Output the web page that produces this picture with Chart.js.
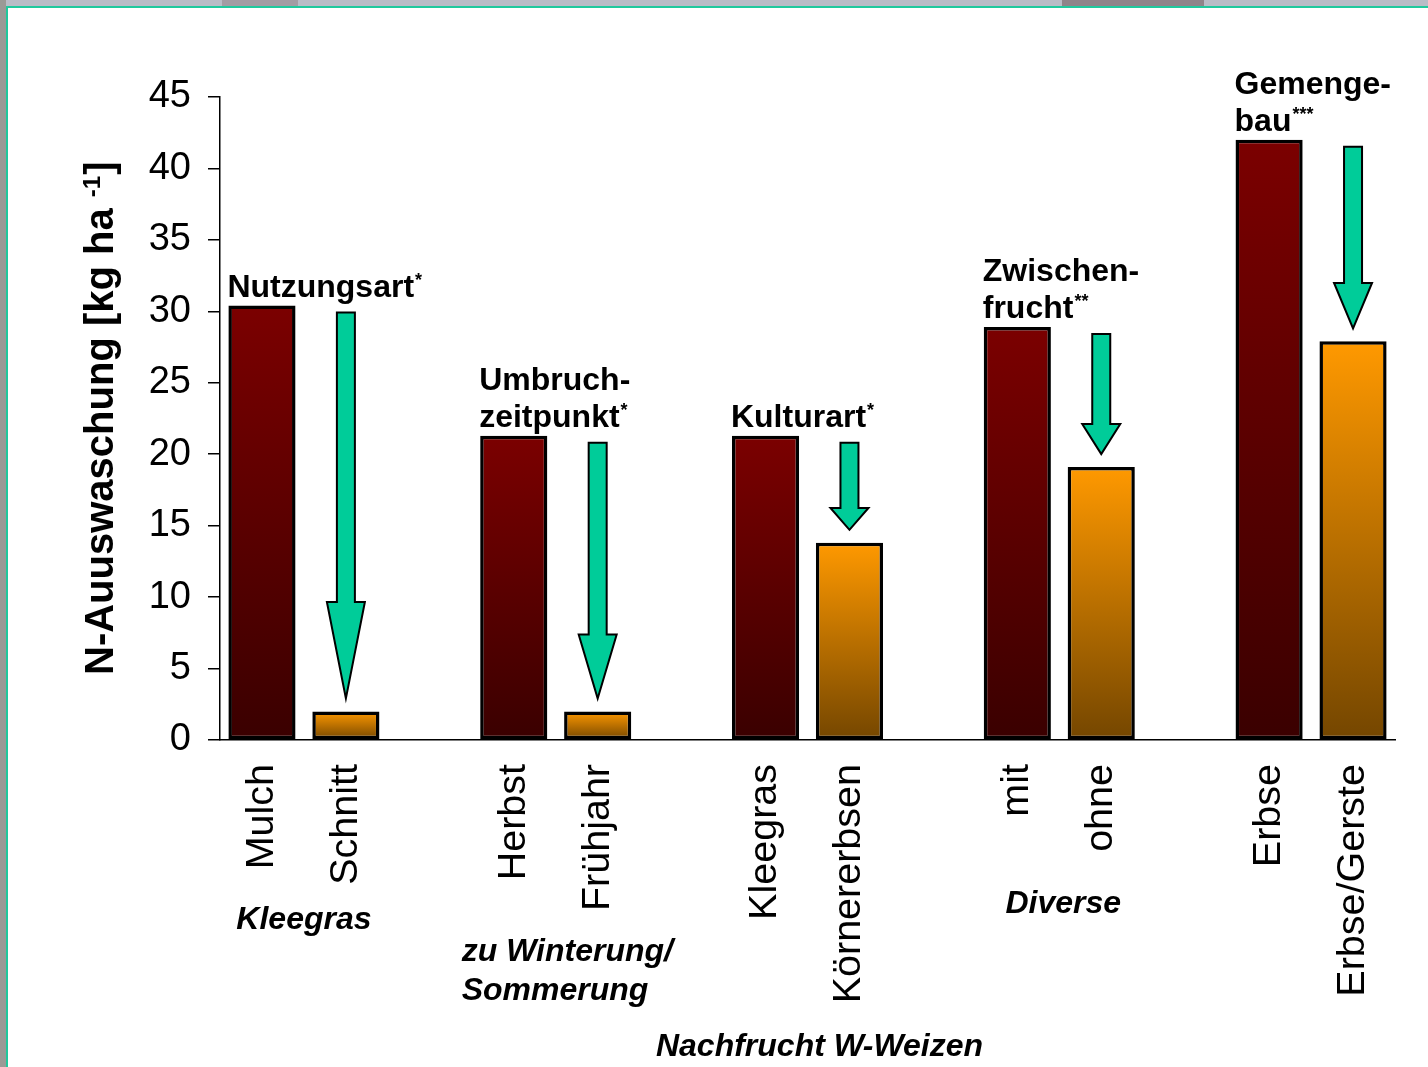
<!DOCTYPE html>
<html>
<head>
<meta charset="utf-8">
<script src="https://cdn.jsdelivr.net/npm/chart.js@4.4.0/dist/chart.umd.min.js"></script>
<style>
  html, body { margin: 0; padding: 0; background: #fff; overflow: hidden; }
  canvas { display: block; }
</style>
</head>
<body>
<canvas id="chart" width="1428" height="1067"></canvas>
<script>
// N leaching (kg N per ha) for five management comparisons
const referenceLabels   = ['Mulch', 'Herbst', 'Kleegras', 'mit', 'Erbse'];
const alternativeLabels = ['Schnitt', 'Frühjahr', 'Körnererbsen', 'ohne', 'Erbse/Gerste'];
const referenceValues   = [30.4, 21.3, 21.3, 28.9, 42.0];
const alternativeValues = [2.0, 2.0, 13.8, 19.1, 27.9];
const factorTitles = [['Nutzungsart'], ['Umbruch-', 'zeitpunkt'], ['Kulturart'], ['Zwischen-', 'frucht'], ['Gemenge-', 'bau']];
const significance = ['*', '*', '*', '**', '***'];
const yTickValues = [0, 5, 10, 15, 20, 25, 30, 35, 40, 45];
const yAxisTitle = ['N-Auuswaschung [kg ha ', '-1', ']'];
const captionKleegras = 'Kleegras';
const captionWinter = ['zu Winterung/', 'Sommerung'];
const captionDiverse = 'Diverse';
const captionFollowCrop = 'Nachfrucht W-Weizen';

// one category slot per bar, with an empty slot between comparisons
const categories = [];
const values = [];
const roles = [];
referenceLabels.forEach((label, i) => {
  if (i > 0) { categories.push(''); values.push(null); roles.push(null); }
  categories.push(label); values.push(referenceValues[i]); roles.push('ref');
  categories.push(alternativeLabels[i]); values.push(alternativeValues[i]); roles.push('alt');
});

const FONT = "'Liberation Sans', Arial, Helvetica, sans-serif";

function barGradient(context) {
  const chart = context.chart;
  const role = roles[context.dataIndex];
  const solid = role === 'ref' ? '#7b0000' : '#ff9900';
  if (!chart.chartArea || context.raw == null) return solid;
  const y = chart.scales.y;
  const top = y.getPixelForValue(context.raw);
  const bottom = y.getPixelForValue(0);
  if (!isFinite(top) || !isFinite(bottom) || bottom - top < 1) return solid;
  const g = chart.ctx.createLinearGradient(0, top, 0, bottom);
  if (role === 'ref') {
    g.addColorStop(0, '#7b0000');
    g.addColorStop(1, '#3a0000');
  } else {
    g.addColorStop(0, '#ff9900');
    g.addColorStop(1, '#744600');
  }
  return g;
}

// slide frame: grey strips with a thin teal rule
const framePlugin = {
  id: 'frame',
  beforeDraw(chart) {
    const c = chart.ctx;
    const W = chart.width, H = chart.height;
    c.save();
    c.fillStyle = '#ffffff';
    c.fillRect(0, 0, W, H);
    c.fillStyle = '#b9bcc6';
    c.fillRect(0, 0, W, 6);
    c.fillStyle = '#a39ca3';
    c.fillRect(222, 0, 76, 6);
    c.fillStyle = '#8f8489';
    c.fillRect(1062, 0, 142, 6);
    c.fillStyle = '#9a9a96';
    c.fillRect(0, 0, 6, H);
    c.fillStyle = '#20c99d';
    c.fillRect(6, 6, W - 6, 2);
    c.fillRect(6, 6, 2, H - 6);
    c.restore();
  }
};

function drawArrow(c, x, y0, y1) {
  const len = y1 - y0;
  const head = len * 0.25;
  const sw = 9, hw = 19;
  c.beginPath();
  c.moveTo(x - sw, y0);
  c.lineTo(x + sw, y0);
  c.lineTo(x + sw, y1 - head);
  c.lineTo(x + hw, y1 - head);
  c.lineTo(x, y1);
  c.lineTo(x - hw, y1 - head);
  c.lineTo(x - sw, y1 - head);
  c.closePath();
  c.fillStyle = '#00cc99';
  c.fill();
  c.lineWidth = 2;
  c.lineJoin = 'miter';
  c.strokeStyle = '#000';
  c.stroke();
}

const annotationPlugin = {
  id: 'annotations',
  afterDatasetsDraw(chart) {
    const c = chart.ctx;
    const meta = chart.getDatasetMeta(0);
    c.save();
    referenceLabels.forEach((_, i) => {
      const ref = meta.data[i * 3];
      const alt = meta.data[i * 3 + 1];
      drawArrow(c, alt.x, ref.y + 7, alt.y - 13);

      // comparison title above the reference bar
      const lines = factorTitles[i];
      const left = ref.x - ref.width / 2 - 1;
      const lastBase = ref.y - 9;
      c.fillStyle = '#000';
      c.textAlign = 'left';
      c.textBaseline = 'alphabetic';
      c.font = 'bold 32px ' + FONT;
      lines.forEach((line, k) => {
        c.fillText(line, left, lastBase - (lines.length - 1 - k) * 37);
      });
      const lastWidth = c.measureText(lines[lines.length - 1]).width;
      c.font = 'bold 18px ' + FONT;
      c.fillText(significance[i], left + lastWidth + 1, lastBase - 11);
    });

    // group captions under the category labels
    const mid = (a, b) => (meta.data[a].x + meta.data[b].x) / 2;
    c.font = 'italic bold 32px ' + FONT;
    c.fillStyle = '#000';
    c.textAlign = 'center';
    c.fillText(captionKleegras, mid(0, 1), 929);
    c.fillText(captionDiverse, mid(9, 10) + 4, 913);
    c.fillText(captionFollowCrop, mid(6, 7) + 12, 1056);
    c.textAlign = 'left';
    const wLeft = mid(3, 4) - 94;
    c.fillText(captionWinter[0], wLeft, 961);
    c.fillText(captionWinter[1], wLeft, 1000);

    // y axis title with superscript exponent
    c.translate(113, 675);
    c.rotate(-Math.PI / 2);
    c.textAlign = 'left';
    c.font = 'bold 40px ' + FONT;
    c.fillText(yAxisTitle[0], 0, 0);
    let off = c.measureText(yAxisTitle[0]).width;
    c.font = 'bold 24px ' + FONT;
    c.fillText(yAxisTitle[1], off, -13);
    off += c.measureText(yAxisTitle[1]).width + 1;
    c.font = 'bold 40px ' + FONT;
    c.fillText(yAxisTitle[2], off, 0);
    c.restore();
  }
};

new Chart(document.getElementById('chart'), {
  type: 'bar',
  data: {
    labels: categories,
    datasets: [{
      data: values,
      backgroundColor: barGradient,
      borderColor: '#000',
      borderWidth: 3.5,
      borderSkipped: false,
      barPercentage: 0.8,
      categoryPercentage: 1.0
    }]
  },
  options: {
    responsive: false,
    animation: false,
    devicePixelRatio: 1,
    layout: { padding: { top: 97, right: 33, left: 0, bottom: 0 } },
    plugins: { legend: { display: false }, tooltip: { enabled: false } },
    scales: {
      x: {
        type: 'category',
        offset: true,
        grid: { display: false, drawTicks: false },
        border: { display: true, color: '#000', width: 1.5 },
        ticks: {
          autoSkip: false,
          minRotation: 90,
          maxRotation: 90,
          padding: 24,
          color: '#000',
          font: { family: FONT, size: 39.5 }
        },
        afterFit(scale) { scale.height = 327; }
      },
      y: {
        min: 0,
        max: 45,
        afterBuildTicks(scale) { scale.ticks = yTickValues.map(v => ({ value: v })); },
        grid: { drawOnChartArea: false, drawTicks: true, tickLength: 12, color: '#000', lineWidth: 1.5 },
        border: { display: true, color: '#000', width: 1.5 },
        ticks: {
          padding: 17,
          color: '#000',
          font: { family: FONT, size: 38 }
        },
        afterFit(scale) { scale.width = 220; }
      }
    }
  },
  plugins: [framePlugin, annotationPlugin]
});
</script>
</body>
</html>
